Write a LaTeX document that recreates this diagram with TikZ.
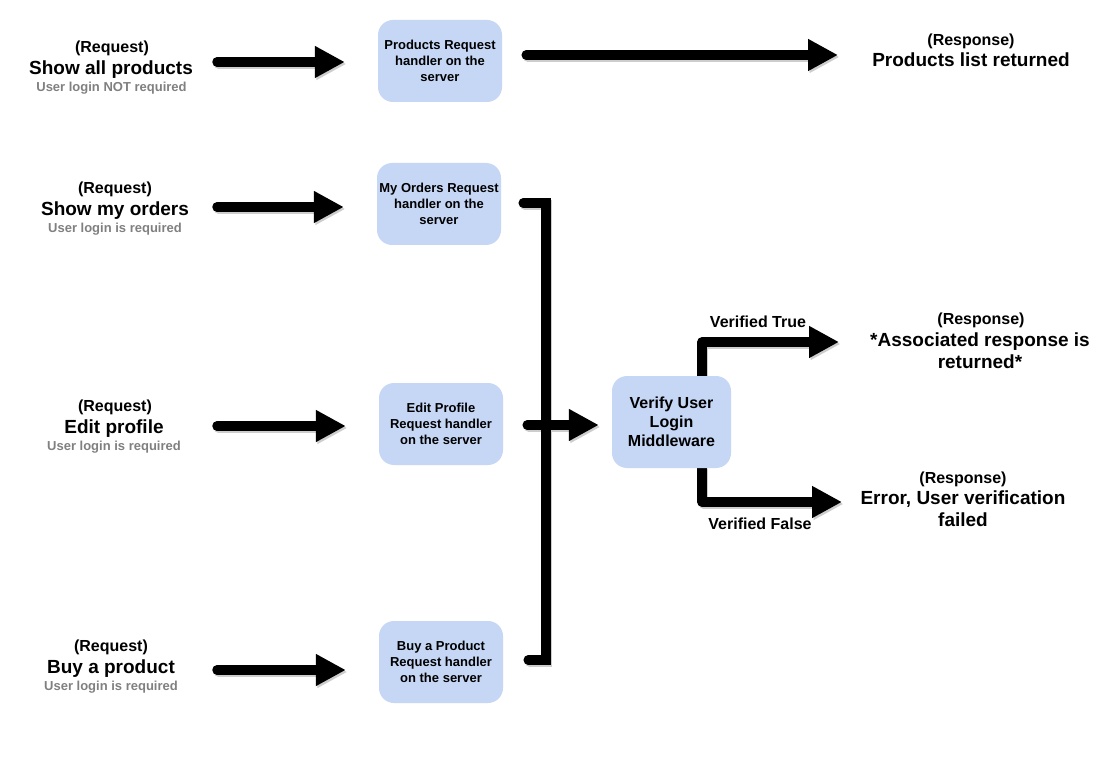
\documentclass[tikz,border=0pt]{standalone}
\usepackage{fontspec}
\setmainfont{Liberation Sans}
\usetikzlibrary{arrows.meta,calc}

\definecolor{boxblue}{RGB}{197,215,245}
\definecolor{notegray}{RGB}{128,128,128}
\definecolor{wireshadow}{RGB}{205,205,205}

\pgfdeclarelayer{paper}
\pgfdeclarelayer{wires}
\pgfsetlayers{paper,wires,main}

\newcommand\fsz[2]{\fontsize{#1}{#2}\selectfont}

% all connectors, drawn with the given colour (once for the shadow, once in black)
\newcommand\allwires[1]{%
  \draw[flow, draw=#1, shorten >=33pt] (q1s) -- (q1s -| b1.west);
  \draw[flow, draw=#1, shorten >=33pt] (q2s) -- (q2s -| b2.west);
  \draw[flow, draw=#1, shorten >=33pt] (q3s) -- (q3s -| b3.west);
  \draw[flow, draw=#1, shorten >=33pt] (q4s) -- (q4s -| b4.west);
  \draw[flow, draw=#1] (p1) -- (r1tip);
  \draw[bus, draw=#1] (p2) -- (p2 -| bus) -- (p4 -| bus) -- (p4);
  \draw[flow, draw=#1, shorten >=13pt] (p3) -- (p3 -| mw.west);
  \draw[flow, draw=#1] ([xshift=30.5pt]mw.north) |- (okTip);
  \draw[flow, draw=#1] ([xshift=30.5pt]mw.south) |- (errTip);
}

\begin{document}
\begin{tikzpicture}[x=1pt,y=-1pt,
  handler/.style={fill=boxblue, rounded corners=15pt, minimum width=124pt,
    minimum height=82pt, inner sep=0pt, align=center, font=\bfseries\fsz{13}{16}},
  middleware/.style={handler, minimum width=119pt, minimum height=92pt,
    font=\bfseries\fsz{16}{19}},
  txt/.style={anchor=base, inner sep=0pt},
  reqtag/.style={txt, font=\bfseries\fsz{16}{19}},
  title/.style={txt, font=\bfseries\fsz{19}{22}},
  note/.style={txt, text=notegray, font=\bfseries\fsz{13}{16}},
  branch/.style={txt, font=\bfseries\fsz{16}{19}},
  flow/.style={line width=9.5pt, line cap=round, line join=round,
    -{Triangle[length=30pt,width=30pt]}},
  bus/.style={line width=9.5pt, line cap=round, line join=miter},
]
\useasboundingbox (0,0) rectangle (1104,762);
\begin{pgfonlayer}{paper}
  \fill[white] (0,0) rectangle (1104,762);
\end{pgfonlayer}

% request handlers and middleware
\node[handler] (b1) at (440,61) {Products Request\\handler on the\\server};
\node[handler] (b2) at (439,204) {My Orders Request\\handler on the\\server};
\node[handler] (b3) at (441,424) {Edit Profile\\Request handler\\on the server};
\node[handler] (b4) at (441,662) {Buy a Product\\Request handler\\on the server};
\node[middleware] (mw) at (671.5,422) {Verify User\\Login\\Middleware};

% requests
\node[reqtag] (q1a) at (112,53)  {(Request)};
\node[title]  (q1b) at (111,75)  {Show all products};
\node[note]   (q1c) at (111.5,92) {User login NOT required};

\node[reqtag] (q2a) at (115,194) {(Request)};
\node[title]  (q2b) at (115,216) {Show my orders};
\node[note]   (q2c) at (115,233) {User login is required};

\node[reqtag] (q3a) at (115,411) {(Request)};
\node[title]  (q3b) at (114,433) {Edit profile};
\node[note]   (q3c) at (114,450) {User login is required};

\node[reqtag] (q4a) at (111,651) {(Request)};
\node[title]  (q4b) at (111,673) {Buy a product};
\node[note]   (q4c) at (111,690) {User login is required};

% responses
\node[reqtag] (r1a) at (971,46) {(Response)};
\node[title]  (r1b) at (971,67) {Products list returned};

\node[reqtag] (r2a) at (981,325) {(Response)};
\node[title]  (r2b) at (980,347) {*Associated response is};
\node[title]  (r2c) at (980,368) {returned*};

\node[reqtag] (r3a) at (963,483) {(Response)};
\node[title]  (r3b) at (963,504) {Error, User verification};
\node[title]  (r3c) at (963,526) {failed};

\node[branch] (vt) at (758,327) {Verified True};
\node[branch] (vf) at (760,529) {Verified False};

% connector end points
\coordinate (q1s) at (217,62);
\coordinate (q2s) at (217,207);
\coordinate (q3s) at (217,426);
\coordinate (q4s) at (217,670);
\coordinate (p1) at ($(b1.east)+(24,-6)$);
\coordinate (r1tip) at (838,55);
\coordinate (p2) at ($(b2.east)+(22,-1)$);
\coordinate (p3) at ($(b3.east)+(24,1)$);
\coordinate (p4) at ($(b4.east)+(25,-2)$);
\coordinate (bus) at (546,425);
\coordinate (okTip) at (839,342);
\coordinate (errTip) at (842,502);

\begin{pgfonlayer}{wires}
  \begin{scope}[transform canvas={shift={(1.5pt,-2pt)}}]
    \allwires{wireshadow}
  \end{scope}
  \allwires{black}
\end{pgfonlayer}
\end{tikzpicture}
\end{document}
